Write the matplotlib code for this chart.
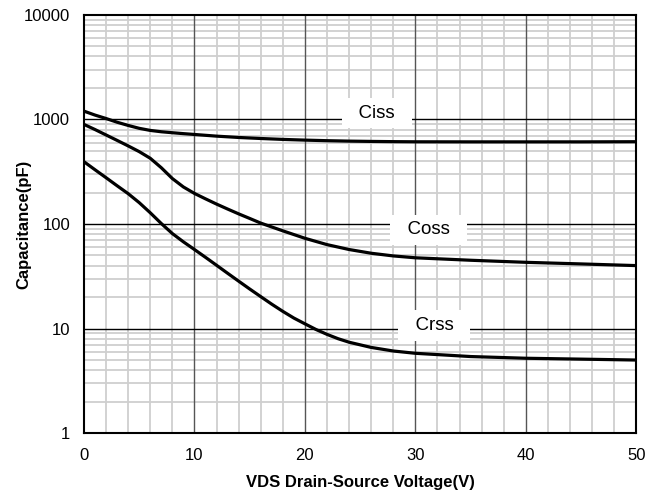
import matplotlib.pyplot as plt
from matplotlib.ticker import FixedLocator, NullLocator

plt.rcParams['font.family'] = ['Liberation Sans', 'DejaVu Sans']

ciss_v = [0, 1, 2, 3, 4, 5, 6, 7, 8, 9, 10, 12, 14, 16, 18, 20, 22, 24, 26, 28, 30, 35, 40, 45, 50]
ciss = [1200, 1100, 1020, 940, 876, 822, 785, 762, 746, 731, 718, 692, 672, 657, 644, 634, 626, 620, 616, 613, 611, 610, 610, 610, 612]

coss_v = [0, 1, 2, 3, 4, 5, 6, 7, 8, 9, 10, 11, 12, 13, 14, 15, 16, 18, 20, 22, 24, 26, 28, 30, 35, 40, 45, 50]
coss = [896, 800, 710, 630, 558, 492, 425, 345, 272, 226, 196, 174, 155, 139, 125, 113, 102, 86, 73, 63.5, 57, 52.5, 49.5, 47.5, 45, 43, 41.5, 40]

crss_v = [0, 1, 2, 3, 4, 5, 6, 7, 8, 9, 10, 11, 12, 13, 14, 15, 16, 17, 18, 19, 20, 21, 22, 23, 24, 26, 28, 30, 35, 40, 45, 50]
crss = [394, 330, 277, 232, 195, 160, 128, 101, 81, 67.5, 57, 48, 40.3, 33.8, 28.4, 23.9, 20.2, 17.1, 14.6, 12.6, 11.1, 9.8, 8.8, 8.0, 7.4, 6.6, 6.1, 5.8, 5.4, 5.2, 5.1, 5.0]

labels = ["Ciss", "Coss", "Crss"]
label_x = [26.5, 31.2, 31.7]
label_y = [1150, 88, 10.7]

x_major = [0, 10, 20, 30, 40, 50]
x_minor = [v for v in range(2, 50, 2) if v % 10]
y_major = [1, 10, 100, 1000, 10000]
y_minor = [m * 10 ** d for d in range(4) for m in range(2, 10)]

fig, ax = plt.subplots(figsize=(6.46, 4.95), dpi=100)
fig.subplots_adjust(left=0.13, right=0.985, top=0.97, bottom=0.125)

ax.set_yscale('log')
ax.set_xlim(0, 50)
ax.set_ylim(1, 10000)

ax.xaxis.set_major_locator(FixedLocator(x_major))
ax.xaxis.set_minor_locator(NullLocator())
ax.set_yticks(y_major)
ax.set_yticklabels([str(v) for v in y_major])
ax.yaxis.set_minor_locator(NullLocator())

# grid: light minor lines first, darker major lines on top
for v in x_minor:
    ax.axvline(v, color='#cfcfcf', linewidth=1.3, zorder=0.5)
for v in y_minor:
    ax.axhline(v, color='#cfcfcf', linewidth=1.3, zorder=0.5)
for v in x_major[1:-1]:
    ax.axvline(v, color='#555555', linewidth=1.0, zorder=0.8)
for v in y_major[1:-1]:
    ax.axhline(v, color='#000000', linewidth=1.0, zorder=0.8)

ax.tick_params(which='both', length=0, labelsize=12)
ax.tick_params(axis='y', pad=10)
ax.tick_params(axis='x', pad=11)

for s in ax.spines.values():
    s.set_linewidth(1.5)

ax.plot(ciss_v, ciss, color='black', linewidth=2.3, zorder=3)
ax.plot(coss_v, coss, color='black', linewidth=2.3, zorder=3)
ax.plot(crss_v, crss, color='black', linewidth=2.3, zorder=3)

for t, x, y in zip(labels, label_x, label_y):
    ax.text(x, y, "  " + t + "  ", fontsize=13.5, ha='center', va='center', zorder=4,
            bbox=dict(boxstyle='square,pad=0.35', facecolor='white', edgecolor='none'))

ax.set_xlabel('VDS Drain-Source Voltage(V)', fontsize=12, fontweight='bold', labelpad=8)
ax.set_ylabel('Capacitance(pF)', fontsize=12, fontweight='bold')
ax.yaxis.set_label_coords(-0.096, 0.5)

fig.savefig('out.png', dpi=100)
